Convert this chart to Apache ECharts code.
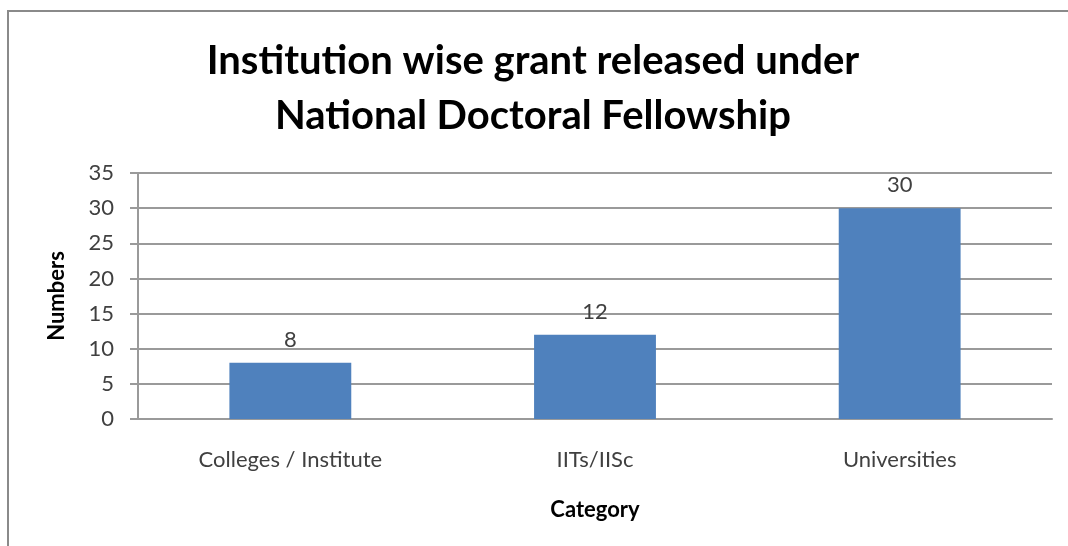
<!DOCTYPE html>
<html>
	<head>
		<meta charset="utf-8" />
		<title>Institution wise grant</title>
		<script type="text/javascript" src="https://cdn.jsdelivr.net/npm/echarts@6/dist/echarts.min.js"></script>
		<style>
			html, body { margin: 0; padding: 0; background: #fff; }
			#chart { width: 1068px; height: 546px; }
		</style>
	</head>
	<body>
		<div id="chart"></div>
		<script type="text/javascript">
			var categories = ['Colleges / Institute', 'IITs/IISc', 'Universities'];
			var grantCounts = [8, 12, 30];
			var yTicks = [0, 5, 10, 15, 20, 25, 30, 35];

			var font = 'Lato, "Open Sans", sans-serif';
			var myChart = echarts.init(document.getElementById('chart'));

			var option = {
				backgroundColor: '#fff',
				animation: false,
				title: {
					text: 'Institution wise grant released under\nNational Doctoral Fellowship',
					left: 528,
					top: 29,
					textAlign: 'center',
					textStyle: {
						fontFamily: font,
						fontSize: 40,
						fontWeight: 'bold',
						color: '#000',
						lineHeight: 55
					}
				},
				graphic: [{
					type: 'rect',
					shape: { x: 8, y: 11, width: 1080, height: 560 },
					style: { fill: 'none', stroke: '#8a8a8a', lineWidth: 2 },
					silent: true
				}],
				grid: {
					left: 138,
					right: 16,
					top: 173,
					bottom: 127
				},
				xAxis: {
					type: 'category',
					data: categories,
					name: 'Category',
					nameLocation: 'middle',
					nameGap: 80,
					nameTextStyle: { fontFamily: font, fontSize: 22, fontWeight: 'bold', color: '#000' },
					axisLine: { lineStyle: { color: '#9a9a9a', width: 2 } },
					axisTick: { show: false },
					axisLabel: { fontFamily: font, fontSize: 22, color: '#404040', margin: 30 }
				},
				yAxis: {
					type: 'value',
					min: yTicks[0],
					max: yTicks[yTicks.length - 1],
					interval: 5,
					name: 'Numbers',
					nameLocation: 'middle',
					nameGap: 70,
					nameTextStyle: { fontFamily: font, fontSize: 22, fontWeight: 'bold', color: '#000' },
					axisLine: { show: true, lineStyle: { color: '#9a9a9a', width: 2 } },
					axisTick: { show: true, length: 8, lineStyle: { color: '#9a9a9a', width: 2 } },
					axisLabel: { fontFamily: font, fontSize: 22, color: '#404040', margin: 24 },
					splitLine: { lineStyle: { color: '#9a9a9a', width: 2 } }
				},
				series: [{
					type: 'bar',
					data: grantCounts,
					barWidth: '40%',
					itemStyle: { color: '#4f81bd' },
					label: {
						show: true,
						position: 'top',
						distance: 12,
						fontFamily: font,
						fontSize: 22,
						color: '#404040'
					}
				}]
			};

			myChart.setOption(option);
			window.onresize = myChart.resize;
		</script>
	</body>
</html>
